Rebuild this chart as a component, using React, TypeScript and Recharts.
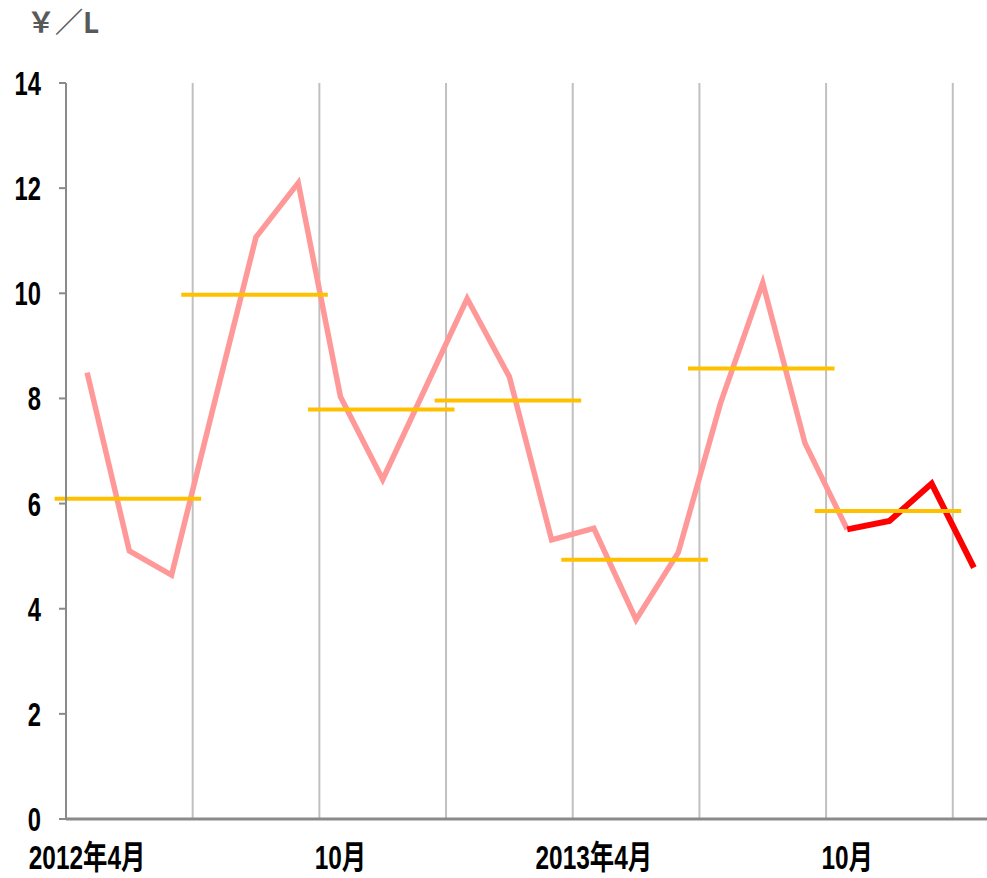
import { LineChart, Line, XAxis, YAxis, CartesianGrid, ReferenceLine } from "recharts";

// monthly price, 2012/4 .. 2014/1
const MONTHS = [
	"2012/4", "2012/5", "2012/6", "2012/7", "2012/8", "2012/9",
	"2012/10", "2012/11", "2012/12", "2013/1", "2013/2", "2013/3",
	"2013/4", "2013/5", "2013/6", "2013/7", "2013/8", "2013/9",
	"2013/10", "2013/11", "2013/12", "2014/1",
];
const PAST = [
	8.49, 5.1, 4.64, 7.87, 11.07, 12.1, 8.03, 6.46, 8.18, 9.9, 8.41, 5.31,
	5.53, 3.79, 5.07, 7.91, 10.2, 7.15, 5.51, null, null, null,
];
const RECENT = [
	null, null, null, null, null, null, null, null, null, null, null, null,
	null, null, null, null, null, null, 5.51, 5.67, 6.38, 4.78,
];
// quarterly averages (yellow bars), one per 3 months starting 2012/4
const QUARTER_AVG = [6.09, 9.97, 7.79, 7.96, 4.93, 8.57, 5.86];

const X_LABELS: Record<number, string> = {
	0: "2012年4月",
	6: "10月",
	12: "2013年4月",
	18: "10月",
};
const LABEL_TICKS = [0, 6, 12, 18];
const GRID_BOUNDS = [2.5, 5.5, 8.5, 11.5, 14.5, 17.5, 20.5];
const MARK_BOUNDS = [-0.5, 5.5, 11.5, 17.5];
const Y_TICKS = [0, 2, 4, 6, 8, 10, 12, 14];

const data = MONTHS.map((m, i) => ({ i, month: m, past: PAST[i], recent: RECENT[i] }));

const FONT = "'Liberation Sans', 'Noto Sans CJK JP', sans-serif";
const AXIS_GRAY = "#8a8a8a";

const EmptyTick = () => <g />;

function XTick({ x, y, payload }: any) {
	return (
		<g transform={`translate(${x},${y + 50}) scale(0.74,1)`}>
			<text textAnchor="middle" fontSize={33} fontWeight="bold" fontFamily={FONT} fill="#000">
				{X_LABELS[payload.value]}
			</text>
		</g>
	);
}

function YTick({ x, y, payload }: any) {
	return (
		<g transform={`translate(${x},${y + 12}) scale(0.72,1)`}>
			<text textAnchor="end" fontSize={33} fontWeight="bold" fontFamily={FONT} fill="#000">
				{payload.value}
			</text>
		</g>
	);
}

export default function App() {
	return (
		<div
			style={{
				position: "absolute",
				left: 0,
				top: 0,
				width: 987,
				height: 878,
				overflow: "hidden",
				background: "#fff",
			}}
		>
			<div
				style={{
					position: "absolute",
					left: 27,
					top: 6,
					fontFamily: "'Noto Sans CJK JP', sans-serif",
					fontWeight: "bold",
					fontSize: 28,
					lineHeight: "30px",
					color: "#595959",
				}}
			>
				￥／L
			</div>
			<LineChart
				width={995}
				height={878}
				data={data}
				margin={{ top: 83, right: 0, bottom: 0, left: 0 }}
			>
				<XAxis
					xAxisId="grid"
					dataKey="i"
					type="number"
					domain={[-0.5, 21.5]}
					ticks={GRID_BOUNDS}
					tick={<EmptyTick />}
					tickLine={false}
					axisLine={false}
					height={0}
				/>
				<XAxis
					xAxisId="mark"
					dataKey="i"
					type="number"
					domain={[-0.5, 21.5]}
					ticks={MARK_BOUNDS}
					tick={<EmptyTick />}
					tickSize={7}
					tickLine={{ stroke: AXIS_GRAY, strokeWidth: 2 }}
					axisLine={false}
					height={0}
				/>
				<XAxis
					dataKey="i"
					type="number"
					domain={[-0.5, 21.5]}
					ticks={LABEL_TICKS}
					tick={<XTick />}
					tickLine={false}
					tickSize={0}
					tickMargin={0}
					axisLine={{ stroke: AXIS_GRAY, strokeWidth: 3 }}
					height={59}
				/>
				<YAxis
					domain={[0, 14]}
					ticks={Y_TICKS}
					width={66}
					tickSize={7}
					tickMargin={18}
					tick={<YTick />}
					tickLine={{ stroke: AXIS_GRAY, strokeWidth: 2 }}
					axisLine={{ stroke: AXIS_GRAY, strokeWidth: 2 }}
				/>
				<CartesianGrid
					xAxisId="grid"
					horizontal={false}
					vertical={true}
					stroke="#c0c0c0"
					strokeWidth={2}
				/>
				<Line
					dataKey="past"
					stroke="#ff9999"
					strokeWidth={5.5}
					dot={false}
					activeDot={false}
					isAnimationActive={false}
				/>
				<Line
					dataKey="recent"
					stroke="#ff0000"
					strokeWidth={6}
					dot={false}
					activeDot={false}
					isAnimationActive={false}
				/>
				{QUARTER_AVG.map((v, k) => (
					<ReferenceLine
						key={k}
						ifOverflow="visible"
						segment={[
							{ x: k * 3 - 0.77, y: v },
							{ x: k * 3 + 2.7, y: v },
						]}
						stroke="#ffc000"
						strokeWidth={4}
					/>
				))}
			</LineChart>
		</div>
	);
}
